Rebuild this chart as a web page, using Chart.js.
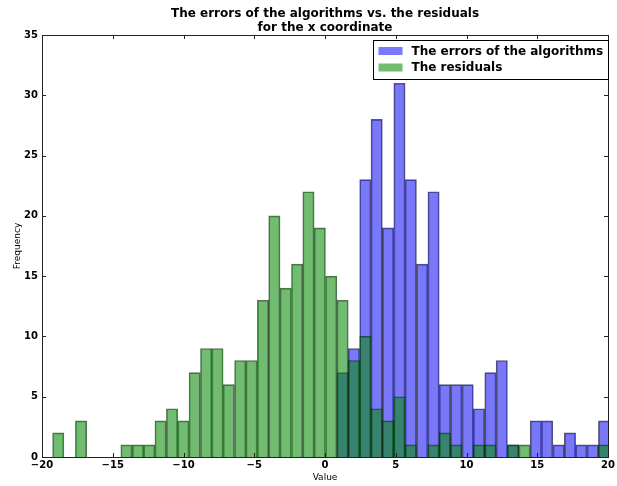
<!DOCTYPE html>
<html>
<head>
<meta charset="utf-8">
<script src="https://cdn.jsdelivr.net/npm/chart.js@4.4.1/dist/chart.umd.min.js"></script>
<style>
  html, body { margin: 0; padding: 0; background: #fff; }
  #chart { display: block; }
</style>
</head>
<body>
<canvas id="chart" width="617" height="486"></canvas>
<script>
// bin centres shared by both histograms (width ~0.80)
const binCenters = [
  -18.85, -18.04, -17.24, -16.44, -15.63, -14.83, -14.03, -13.22, -12.42, -11.62,
  -10.81, -10.01, -9.21, -8.40, -7.60, -6.80, -5.99, -5.19, -4.38, -3.58,
  -2.78, -1.97, -1.17, -0.37, 0.44, 1.24, 2.04, 2.85, 3.65, 4.45,
  5.26, 6.06, 6.86, 7.67, 8.47, 9.27, 10.08, 10.88, 11.69, 12.49,
  13.29, 14.10, 14.90, 15.70, 16.51, 17.31, 18.11, 18.92, 19.72
];
const algorithmErrors = [
  0, 0, 0, 0, 0, 0, 0, 0, 0, 0,
  0, 0, 0, 0, 0, 0, 0, 0, 0, 0,
  0, 0, 0, 0, 0, 7, 9, 23, 28, 19,
  31, 23, 16, 22, 6, 6, 6, 4, 7, 8,
  1, 0, 3, 3, 1, 2, 1, 1, 3
];
const residuals = [
  2, 0, 3, 0, 0, 0, 1, 1, 1, 3,
  4, 3, 7, 9, 9, 6, 8, 8, 13, 20,
  14, 16, 22, 19, 15, 13, 8, 10, 4, 3,
  5, 1, 0, 1, 2, 1, 0, 1, 1, 0,
  1, 1, 0, 0, 0, 0, 0, 0, 1
];
const seriesLabels = ['The errors of the algorithms', 'The residuals'];
const xTickValues = [-20, -15, -10, -5, 0, 5, 10, 15, 20];
const yTickValues = [0, 5, 10, 15, 20, 25, 30, 35];

const FONT = '"DejaVu Sans", "Liberation Sans", sans-serif';

// box round the plot and matplotlib-style inward ticks
const framePlugin = {
  id: 'frame',
  afterDatasetsDraw(chart) {
    const { ctx, chartArea: a, scales } = chart;
    ctx.save();
    ctx.strokeStyle = '#222';
    ctx.lineWidth = 1;
    ctx.beginPath();
    scales.x.ticks.forEach(t => {
      const px = Math.round(scales.x.getPixelForValue(t.value)) + 0.5;
      ctx.moveTo(px, a.bottom); ctx.lineTo(px, a.bottom - 4);
      ctx.moveTo(px, a.top); ctx.lineTo(px, a.top + 4);
    });
    scales.y.ticks.forEach(t => {
      const py = Math.round(scales.y.getPixelForValue(t.value)) + 0.5;
      ctx.moveTo(a.left, py); ctx.lineTo(a.left + 4, py);
      ctx.moveTo(a.right, py); ctx.lineTo(a.right - 4, py);
    });
    ctx.stroke();
    ctx.strokeRect(Math.round(a.left) + 0.5, Math.round(a.top) + 0.5,
      Math.round(a.right - a.left), Math.round(a.bottom - a.top));
    ctx.restore();
  }
};

// framed legend in the upper right corner of the plot
const legendBox = {
  id: 'legendBox',
  afterDraw(chart) {
    const { ctx, chartArea: a } = chart;
    const sets = chart.data.datasets;
    ctx.save();
    ctx.font = 'bold 12px ' + FONT;
    const textW = Math.max(...sets.map(d => ctx.measureText(d.label).width));
    const w = Math.round(5 + 24 + 9 + textW + 5);
    const h = 39;
    const x = Math.round(a.right - w) + 0.5;
    const y = Math.round(a.top + 5) + 0.5;
    ctx.fillStyle = '#fff';
    ctx.fillRect(x, y, w, h);
    ctx.strokeStyle = '#000';
    ctx.lineWidth = 1;
    ctx.strokeRect(x, y, w, h);
    sets.forEach((d, i) => {
      const cy = y + 10.5 + i * 16.5;
      ctx.fillStyle = d.backgroundColor;
      ctx.fillRect(x + 5, cy - 4, 24, 8);
      ctx.fillStyle = '#000';
      ctx.textBaseline = 'middle';
      ctx.fillText(d.label, x + 38, cy + 0.5);
    });
    ctx.restore();
  }
};

function tickLabel(v) {
  return String(v).replace('-', '\u2212');
}

const ctx = document.getElementById('chart').getContext('2d');
const chart = new Chart(ctx, {
  type: 'bar',
  data: {
    datasets: [{
      label: seriesLabels[0],
      data: binCenters.map((c, i) => ({ x: c, y: algorithmErrors[i] })),
      xAxisID: 'x',
      backgroundColor: 'rgba(30, 30, 245, 0.6)',
      borderColor: 'rgba(0, 0, 40, 0.65)',
      borderWidth: 1,
      barPercentage: 1,
      categoryPercentage: 1,
      grouped: false,
      order: 2
    }, {
      label: seriesLabels[1],
      data: binCenters.map((c, i) => ({ x: c, y: residuals[i] })),
      xAxisID: 'x2',
      backgroundColor: 'rgba(10, 140, 10, 0.58)',
      borderColor: 'rgba(0, 40, 0, 0.65)',
      borderWidth: 1,
      barPercentage: 1,
      categoryPercentage: 1,
      grouped: false,
      order: 1
    }]
  },
  options: {
    responsive: false,
    animation: false,
    devicePixelRatio: 1,
    layout: { padding: { left: 0, right: 1.5, top: 0, bottom: 0 } },
    scales: {
      x: {
        type: 'linear',
        offset: false,
        min: -20,
        max: 20,
        grid: { display: false, drawTicks: false, offset: false },
        border: { display: false },
        afterBuildTicks: scale => { scale.ticks = xTickValues.map(v => ({ value: v })); },
        afterFit: scale => { scale.height = 29; },
        ticks: {
          autoSkip: false,
          maxRotation: 0,
          padding: 2,
          color: '#000',
          font: { family: FONT, size: 10, weight: 'bold' },
          callback: v => tickLabel(v)
        },
        title: {
          display: true,
          text: 'Value',
          color: '#000',
          font: { family: FONT, size: 9 },
          padding: { top: 0, bottom: 3 }
        }
      },
      x2: {
        type: 'linear',
        display: false,
        offset: false,
        min: -20,
        max: 20,
        grid: { offset: false },
        afterBuildTicks: scale => { scale.ticks = xTickValues.map(v => ({ value: v })); }
      },
      y: {
        min: 0,
        max: 35,
        grid: { display: false, drawTicks: false },
        border: { display: false },
        afterBuildTicks: scale => { scale.ticks = yTickValues.map(v => ({ value: v })); },
        afterFit: scale => { scale.width = 42; },
        ticks: {
          padding: 4,
          color: '#000',
          font: { family: FONT, size: 10, weight: 'bold' },
          callback: v => tickLabel(v)
        },
        title: {
          display: true,
          text: 'Frequency',
          color: '#000',
          font: { family: FONT, size: 9 },
          padding: { top: 12, bottom: 0 }
        }
      }
    },
    plugins: {
      legend: { display: false },
      tooltip: { enabled: false },
      title: {
        display: true,
        fullSize: false,
        text: ['The errors of the algorithms vs. the residuals', 'for the x coordinate'],
        color: '#000',
        font: { family: FONT, size: 12, weight: 'bold', lineHeight: 1.15 },
        padding: { top: 7.4, bottom: 0 }
      }
    }
  },
  plugins: [framePlugin, legendBox]
});
</script>
</body>
</html>
